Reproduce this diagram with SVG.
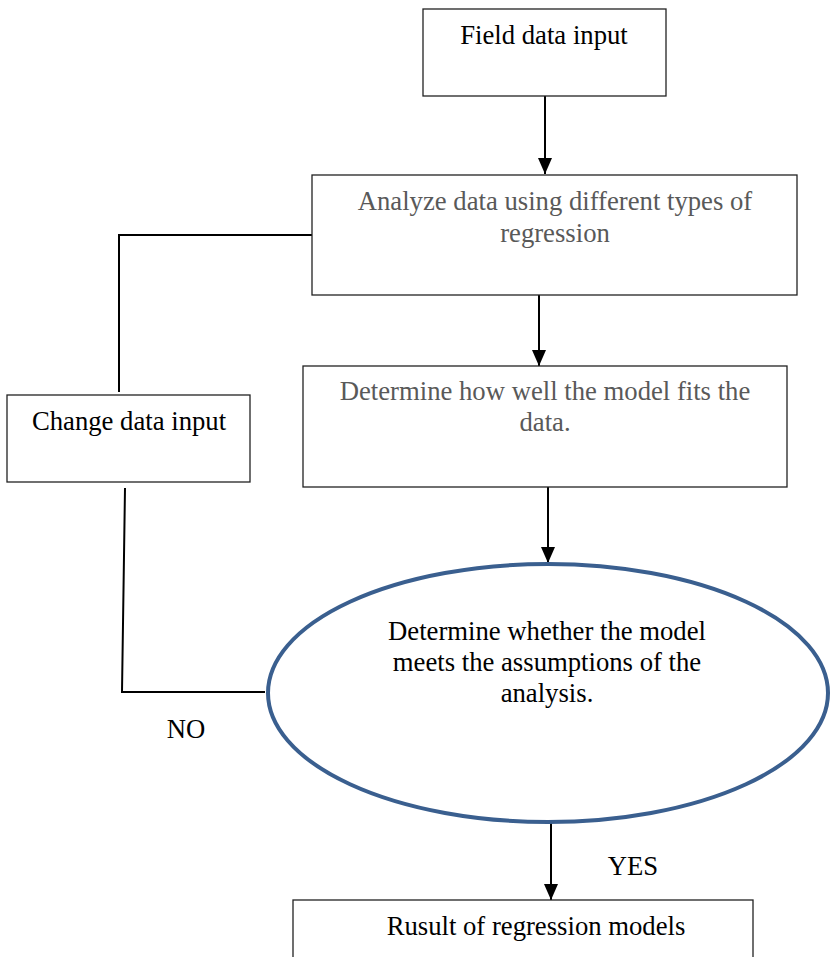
<svg xmlns="http://www.w3.org/2000/svg" width="830" height="957" viewBox="0 0 830 957">
<defs>
<style>
.box{fill:#fff;stroke:#222;stroke-width:1.3}
.t{font-family:'Liberation Serif','Times New Roman','DejaVu Serif',serif;font-size:26.7px;fill:#000;text-anchor:middle}
.g{fill:#595959}
.ln{stroke:#000;stroke-width:2;fill:none}
</style>
<marker id="a2" viewBox="0 0 16 14" refX="16" refY="7" markerWidth="16" markerHeight="14" markerUnits="userSpaceOnUse" orient="auto">
<path d="M0,0 L16,7 L0,14 Z" fill="#000"/>
</marker>
</defs>
<rect width="830" height="957" fill="#fff"/>
<g id="connectors">
<line class="ln" x1="545" y1="96" x2="545" y2="174" marker-end="url(#a2)"/>
<line class="ln" x1="539" y1="295" x2="539" y2="366" marker-end="url(#a2)"/>
<line class="ln" x1="548" y1="487" x2="548" y2="563" marker-end="url(#a2)"/>
<line class="ln" x1="551" y1="823" x2="551" y2="900" marker-end="url(#a2)"/>
<polyline class="ln" points="312,235 119,235 119,392"/>
<polyline class="ln" points="125,488 122,692 265,692"/>
</g>
<g id="n1">
<rect class="box" x="423" y="9" width="243" height="87"/>
<text class="t" x="544" y="44">Field data input</text>
</g>
<g id="n2">
<rect class="box" x="312" y="175" width="485" height="120"/>
<text class="t g" x="555" y="210">Analyze data using different types of</text>
<text class="t g" x="555" y="242">regression</text>
</g>
<g id="n3">
<rect class="box" x="303" y="366" width="484" height="121"/>
<text class="t g" x="545" y="400">Determine how well the model fits the</text>
<text class="t g" x="545" y="431">data.</text>
</g>
<g id="n4">
<rect class="box" x="7" y="395" width="243" height="87"/>
<text class="t" x="129" y="430">Change data input</text>
</g>
<g id="n5">
<ellipse cx="548" cy="693" rx="280" ry="129" fill="#fff" stroke="#3A5F8F" stroke-width="4"/>
<text class="t" x="547" y="640">Determine whether the model</text>
<text class="t" x="547" y="671">meets the assumptions of the</text>
<text class="t" x="547" y="702">analysis.</text>
</g>
<g id="n6">
<rect class="box" x="293" y="900" width="460" height="70"/>
<text class="t" x="536" y="935">Rusult of regression models</text>
</g>
<g id="labels">
<text class="t" x="186" y="738">NO</text>
<text class="t" x="633" y="875">YES</text>
</g>
</svg>
